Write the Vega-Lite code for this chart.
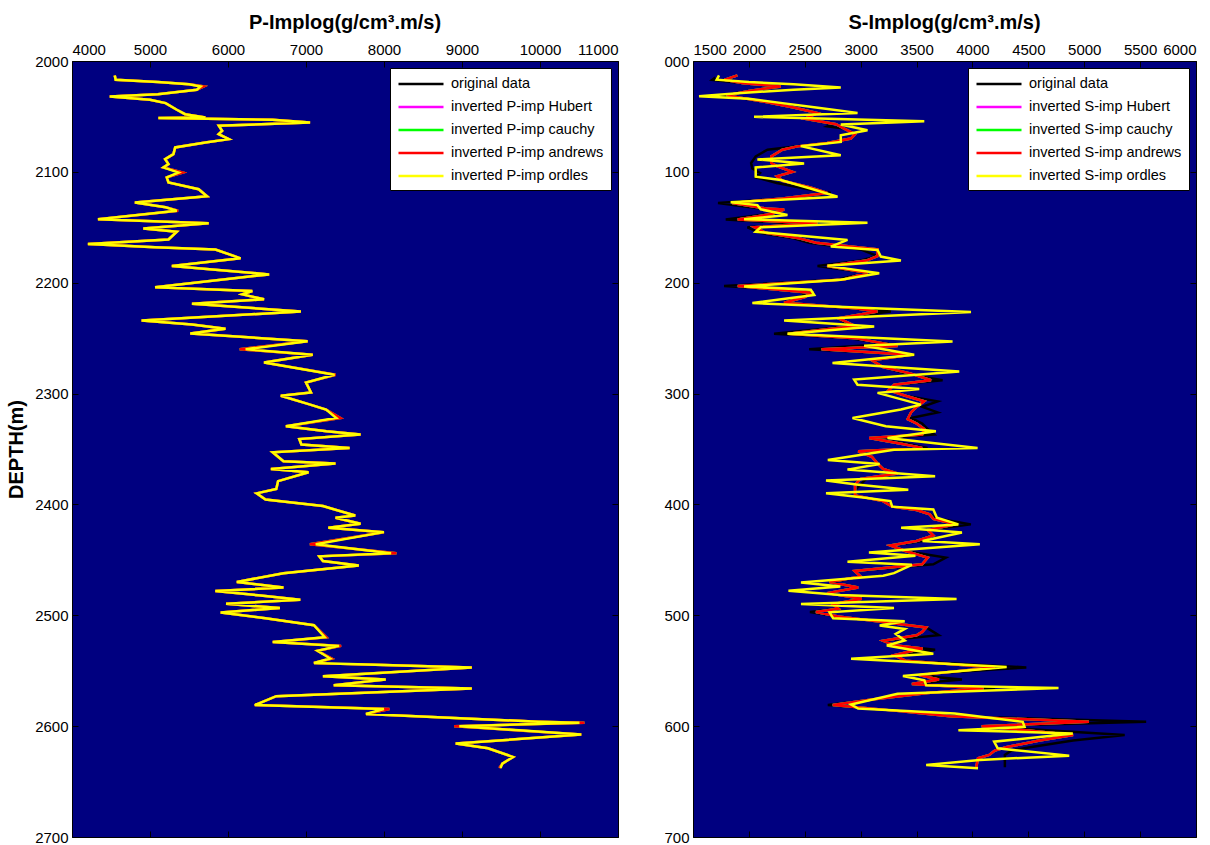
{
"$schema": "https://vega.github.io/schema/vega-lite/v6.json",
"background": "white",
"padding": {"left": 6, "top": 12, "right": 5, "bottom": 0},
"spacing": 44,
"config": {
  "view": {"fill": "#000080", "stroke": "#000000", "strokeWidth": 1},
  "axis": {"labelFont": "Liberation Sans", "labelFontSize": 15, "labelColor": "#000000", "tickColor": "#000000", "tickSize": -6, "labelPadding": 10, "domain": false, "grid": false},
  "legend": {"orient": "top-right", "offset": 7, "fillColor": "#ffffff", "strokeColor": "#000000", "padding": 7, "labelFont": "Liberation Sans", "labelFontSize": 14.5, "labelLimit": 400, "labelColor": "#000000", "symbolType": "M-1,0H5", "symbolSize": 225, "symbolStrokeWidth": 2.5, "labelOffset": 36, "rowPadding": 7},
  "title": {"font": "Liberation Sans", "fontSize": 20, "fontWeight": "bold", "color": "#000000", "offset": 9}
},
"resolve": {"scale": {"x": "independent", "y": "independent", "color": "independent"}},
"datasets": {
"p_ord": [{"d":2013,"v":4548},{"d":2017,"v":4560},{"d":2019,"v":5100},{"d":2021,"v":5500},{"d":2023,"v":5650},{"d":2026,"v":5600},{"d":2030,"v":5100},{"d":2032,"v":4484},{"d":2035,"v":5000},{"d":2038,"v":5200},{"d":2044,"v":5344},{"d":2048,"v":5450},{"d":2051,"v":5710},{"d":2051.5,"v":5107},{"d":2053,"v":6570},{"d":2055.4,"v":7052},{"d":2058.4,"v":5882},{"d":2063,"v":5925},{"d":2066,"v":5880},{"d":2070.5,"v":6010},{"d":2073.5,"v":5710},{"d":2078,"v":5323},{"d":2084,"v":5300},{"d":2088.6,"v":5194},{"d":2093,"v":5237},{"d":2096,"v":5172},{"d":2100.6,"v":5366},{"d":2105,"v":5215},{"d":2109.6,"v":5237},{"d":2115.7,"v":5624},{"d":2122,"v":5731},{"d":2127.7,"v":4806},{"d":2132,"v":5200},{"d":2135,"v":5344},{"d":2142.8,"v":4333},{"d":2146.4,"v":5753},{"d":2151,"v":4914},{"d":2154,"v":5344},{"d":2161,"v":5237},{"d":2165,"v":4204},{"d":2168,"v":5065},{"d":2170,"v":5839},{"d":2178,"v":6161},{"d":2185,"v":5280},{"d":2192.5,"v":6527},{"d":2204,"v":5065},{"d":2207.5,"v":6312},{"d":2210.5,"v":6183},{"d":2215,"v":6462},{"d":2219,"v":5538},{"d":2226,"v":6935},{"d":2234,"v":4892},{"d":2237.7,"v":5538},{"d":2241.6,"v":5968},{"d":2245.8,"v":5516},{"d":2252.7,"v":7021},{"d":2260,"v":6226},{"d":2265,"v":7086},{"d":2272,"v":6462},{"d":2283,"v":7366},{"d":2290,"v":7000},{"d":2299,"v":7064},{"d":2302,"v":6677},{"d":2309.5,"v":7033},{"d":2314.5,"v":7258},{"d":2322,"v":7387},{"d":2329.5,"v":6742},{"d":2334,"v":7263},{"d":2337,"v":7700},{"d":2341,"v":6914},{"d":2346,"v":6941},{"d":2349,"v":7559},{"d":2353,"v":6573},{"d":2361,"v":6711},{"d":2363,"v":7378},{"d":2368,"v":6550},{"d":2371,"v":7033},{"d":2379,"v":6642},{"d":2386,"v":6619},{"d":2390,"v":6366},{"d":2395.5,"v":6481},{"d":2401.5,"v":7217},{"d":2410,"v":7631},{"d":2412,"v":7378},{"d":2417.5,"v":7700},{"d":2421,"v":7286},{"d":2425,"v":7999},{"d":2436,"v":7125},{"d":2444,"v":8091},{"d":2446.8,"v":7171},{"d":2451,"v":7217},{"d":2455,"v":7677},{"d":2462,"v":6711},{"d":2470,"v":6113},{"d":2475,"v":6711},{"d":2478,"v":5837},{"d":2482,"v":6389},{"d":2486,"v":6927},{"d":2489.6,"v":5975},{"d":2493.5,"v":6665},{"d":2497.5,"v":5906},{"d":2502.6,"v":6481},{"d":2509,"v":7102},{"d":2519.8,"v":7240},{"d":2524,"v":6573},{"d":2527.6,"v":7424},{"d":2532,"v":7148},{"d":2539,"v":7309},{"d":2543,"v":7102},{"d":2547,"v":9126},{"d":2555,"v":7217},{"d":2558,"v":8022},{"d":2563,"v":7355},{"d":2566,"v":9126},{"d":2573,"v":6619},{"d":2581,"v":6343},{"d":2584.6,"v":7999},{"d":2589,"v":7769},{"d":2596,"v":9977},{"d":2597,"v":10506},{"d":2600,"v":8965},{"d":2607.6,"v":10529},{"d":2615.7,"v":8919},{"d":2620,"v":9333},{"d":2627.8,"v":9655},{"d":2633.8,"v":9517},{"d":2637.7,"v":9494}],
"p_and": [{"d":2013,"v":4548},{"d":2017,"v":4560},{"d":2019,"v":5100},{"d":2021,"v":5500},{"d":2023,"v":5690},{"d":2026,"v":5600},{"d":2030,"v":5100},{"d":2032,"v":4484},{"d":2035,"v":5000},{"d":2038,"v":5200},{"d":2044,"v":5344},{"d":2048,"v":5450},{"d":2051,"v":5710},{"d":2051.5,"v":5107},{"d":2053,"v":6570},{"d":2055.4,"v":7052},{"d":2058.4,"v":5882},{"d":2063,"v":5925},{"d":2066,"v":5880},{"d":2070.5,"v":6010},{"d":2073.5,"v":5710},{"d":2078,"v":5323},{"d":2084,"v":5300},{"d":2088.6,"v":5194},{"d":2093,"v":5237},{"d":2096,"v":5172},{"d":2100.6,"v":5420},{"d":2105,"v":5215},{"d":2109.6,"v":5237},{"d":2115.7,"v":5624},{"d":2122,"v":5731},{"d":2127.7,"v":4806},{"d":2132,"v":5200},{"d":2135,"v":5360},{"d":2142.8,"v":4333},{"d":2146.4,"v":5753},{"d":2151,"v":4914},{"d":2154,"v":5344},{"d":2161,"v":5237},{"d":2165,"v":4204},{"d":2168,"v":5065},{"d":2170,"v":5839},{"d":2178,"v":6161},{"d":2185,"v":5280},{"d":2192.5,"v":6527},{"d":2204,"v":5065},{"d":2207.5,"v":6312},{"d":2210.5,"v":6183},{"d":2215,"v":6462},{"d":2219,"v":5538},{"d":2226,"v":6935},{"d":2234,"v":4892},{"d":2237.7,"v":5538},{"d":2241.6,"v":5968},{"d":2245.8,"v":5516},{"d":2252.7,"v":7021},{"d":2260,"v":6150},{"d":2265,"v":7086},{"d":2272,"v":6462},{"d":2283,"v":7380},{"d":2290,"v":7000},{"d":2299,"v":7064},{"d":2302,"v":6677},{"d":2309.5,"v":7033},{"d":2314.5,"v":7258},{"d":2322,"v":7440},{"d":2329.5,"v":6742},{"d":2334,"v":7263},{"d":2337,"v":7700},{"d":2341,"v":6914},{"d":2346,"v":6941},{"d":2349,"v":7559},{"d":2353,"v":6573},{"d":2361,"v":6711},{"d":2363,"v":7378},{"d":2368,"v":6550},{"d":2371,"v":7033},{"d":2379,"v":6642},{"d":2386,"v":6619},{"d":2390,"v":6366},{"d":2395.5,"v":6481},{"d":2401.5,"v":7217},{"d":2410,"v":7631},{"d":2412,"v":7378},{"d":2417.5,"v":7700},{"d":2421,"v":7286},{"d":2425,"v":7999},{"d":2436,"v":7050},{"d":2444,"v":8160},{"d":2446.8,"v":7171},{"d":2451,"v":7217},{"d":2455,"v":7677},{"d":2462,"v":6711},{"d":2470,"v":6113},{"d":2475,"v":6711},{"d":2478,"v":5837},{"d":2482,"v":6389},{"d":2486,"v":6927},{"d":2489.6,"v":5975},{"d":2493.5,"v":6665},{"d":2497.5,"v":5906},{"d":2502.6,"v":6481},{"d":2509,"v":7102},{"d":2519.8,"v":7260},{"d":2524,"v":6573},{"d":2527.6,"v":7450},{"d":2532,"v":7148},{"d":2539,"v":7330},{"d":2543,"v":7102},{"d":2547,"v":9126},{"d":2555,"v":7217},{"d":2558,"v":8022},{"d":2563,"v":7355},{"d":2566,"v":9126},{"d":2573,"v":6619},{"d":2581,"v":6343},{"d":2584.6,"v":8070},{"d":2589,"v":7769},{"d":2596,"v":9977},{"d":2597,"v":10570},{"d":2600,"v":8900},{"d":2607.6,"v":10529},{"d":2615.7,"v":8919},{"d":2620,"v":9333},{"d":2627.8,"v":9655},{"d":2633.8,"v":9517},{"d":2637.7,"v":9480}],
"s_ord": [{"d":12.9,"v":1733},{"d":16.8,"v":1712},{"d":19,"v":2000},{"d":21,"v":2400},{"d":24,"v":2822},{"d":26,"v":2400},{"d":29,"v":1900},{"d":31.8,"v":1554},{"d":34,"v":2000},{"d":38,"v":2300},{"d":42,"v":2600},{"d":46.8,"v":2972},{"d":50.4,"v":2046},{"d":54.3,"v":3569},{"d":57.3,"v":2822},{"d":62.4,"v":3061},{"d":67,"v":2822},{"d":73,"v":2822},{"d":76.8,"v":2464},{"d":85,"v":2822},{"d":88.8,"v":2076},{"d":92.4,"v":2494},{"d":96,"v":2061},{"d":104.4,"v":2061},{"d":107.4,"v":2285},{"d":115,"v":2550},{"d":122.4,"v":2793},{"d":127.5,"v":1837},{"d":130,"v":2076},{"d":133.8,"v":2106},{"d":139,"v":2345},{"d":142.8,"v":1957},{"d":145.8,"v":3061},{"d":150,"v":2106},{"d":154,"v":2061},{"d":161.4,"v":2882},{"d":167.4,"v":2733},{"d":170.4,"v":3151},{"d":176.4,"v":3180},{"d":180,"v":3360},{"d":184.8,"v":2703},{"d":191.4,"v":3166},{"d":197.4,"v":2822},{"d":203.4,"v":1957},{"d":206.4,"v":2554},{"d":211,"v":2584},{"d":218.4,"v":2031},{"d":223,"v":3121},{"d":226.5,"v":3987},{"d":234,"v":2315},{"d":239.4,"v":3121},{"d":246,"v":2345},{"d":253,"v":3822},{"d":256.8,"v":3031},{"d":265,"v":3479},{"d":272.4,"v":2748},{"d":280,"v":3882},{"d":287.4,"v":2942},{"d":292,"v":2972},{"d":295.8,"v":3524},{"d":299.4,"v":3151},{"d":310,"v":3539},{"d":314.4,"v":3360},{"d":322,"v":2927},{"d":329.4,"v":3225},{"d":334,"v":3673},{"d":340,"v":3240},{"d":349,"v":4046},{"d":350.6,"v":3298},{"d":360,"v":2706},{"d":363.5,"v":3170},{"d":368.6,"v":2882},{"d":374.6,"v":3666},{"d":378.4,"v":2690},{"d":382,"v":2962},{"d":386.8,"v":3426},{"d":390,"v":2690},{"d":394,"v":3042},{"d":397,"v":3266},{"d":402,"v":3282},{"d":404.5,"v":3650},{"d":412,"v":3682},{"d":418,"v":3874},{"d":421,"v":3362},{"d":425.4,"v":3906},{"d":433,"v":3554},{"d":436,"v":4066},{"d":443.4,"v":3074},{"d":446.4,"v":3490},{"d":451.8,"v":2882},{"d":454.5,"v":3458},{"d":462,"v":3298},{"d":464.4,"v":3202},{"d":470.4,"v":2466},{"d":474,"v":2818},{"d":477.8,"v":2354},{"d":481.7,"v":2818},{"d":485.3,"v":3858},{"d":489.8,"v":2466},{"d":493.4,"v":3298},{"d":497.3,"v":2722},{"d":502.7,"v":2754},{"d":505.4,"v":3394},{"d":509.3,"v":3170},{"d":512.3,"v":3394},{"d":516.8,"v":3314},{"d":522.8,"v":3394},{"d":527.2,"v":3234},{"d":534.7,"v":3650},{"d":539.2,"v":2914},{"d":546.7,"v":4306},{"d":554.8,"v":3378},{"d":558.7,"v":3570},{"d":563.2,"v":3586},{"d":565.6,"v":4770},{"d":570.7,"v":3330},{"d":580.5,"v":2914},{"d":584.1,"v":2978},{"d":588.6,"v":3842},{"d":596.1,"v":4450},{"d":600.6,"v":4466},{"d":603.6,"v":3874},{"d":606.6,"v":4898},{"d":614,"v":4194},{"d":620,"v":4226},{"d":626.6,"v":4866},{"d":630.5,"v":4066},{"d":635,"v":3586},{"d":638,"v":4050}],
"s_orig": [{"d":15,"v":1700},{"d":17,"v":1673},{"d":20,"v":1950},{"d":23,"v":2285},{"d":27,"v":2000},{"d":31,"v":1750},{"d":36,"v":2100},{"d":42,"v":2400},{"d":47,"v":2614},{"d":52,"v":2500},{"d":57,"v":2750},{"d":59,"v":2703},{"d":61,"v":2852},{"d":66,"v":2950},{"d":70,"v":2912},{"d":74,"v":2700},{"d":77,"v":2434},{"d":80,"v":2166},{"d":86,"v":2061},{"d":92,"v":2020},{"d":97,"v":2031},{"d":101,"v":2100},{"d":105,"v":2061},{"d":110,"v":2250},{"d":115,"v":2500},{"d":119,"v":2733},{"d":124,"v":2300},{"d":128,"v":1724},{"d":133,"v":2100},{"d":137,"v":2250},{"d":143,"v":1793},{"d":147,"v":2500},{"d":150,"v":1987},{"d":155,"v":2100},{"d":160,"v":2400},{"d":164,"v":2539},{"d":170,"v":3000},{"d":176,"v":3150},{"d":180,"v":3000},{"d":185,"v":2614},{"d":191,"v":3061},{"d":197,"v":2800},{"d":203,"v":1778},{"d":207,"v":2450},{"d":211,"v":2500},{"d":218,"v":2315},{"d":223,"v":2900},{"d":226,"v":3270},{"d":232,"v":2800},{"d":239,"v":2900},{"d":246,"v":2225},{"d":250,"v":2900},{"d":255,"v":3250},{"d":260,"v":2539},{"d":265,"v":3479},{"d":270,"v":3100},{"d":276,"v":3200},{"d":282,"v":3400},{"d":288,"v":3733},{"d":292,"v":3300},{"d":297,"v":3250},{"d":302,"v":3400},{"d":307,"v":3688},{"d":312,"v":3550},{"d":317,"v":3688},{"d":322,"v":3450},{"d":327,"v":3550},{"d":332,"v":3600},{"d":337,"v":3658},{"d":341,"v":3150},{"d":345,"v":3400},{"d":349,"v":3598},{"d":352,"v":2980},{"d":357,"v":3100},{"d":363,"v":3154},{"d":368,"v":3200},{"d":372,"v":3330},{"d":377,"v":3050},{"d":382,"v":3000},{"d":387,"v":2950},{"d":392,"v":2950},{"d":397,"v":3200},{"d":402,"v":3282},{"d":405,"v":3500},{"d":409,"v":3618},{"d":413,"v":3700},{"d":418,"v":3986},{"d":423,"v":3600},{"d":428,"v":3650},{"d":433,"v":3550},{"d":437,"v":3266},{"d":442,"v":3400},{"d":448,"v":3762},{"d":454,"v":3650},{"d":460,"v":2946},{"d":465,"v":3000},{"d":470,"v":2750},{"d":475,"v":2978},{"d":480,"v":2700},{"d":485,"v":3010},{"d":490,"v":2750},{"d":494,"v":2800},{"d":497,"v":2546},{"d":501,"v":2800},{"d":506,"v":3200},{"d":511,"v":3586},{"d":515,"v":3650},{"d":518,"v":3698},{"d":523,"v":3202},{"d":527,"v":3300},{"d":531,"v":3666},{"d":536,"v":3300},{"d":541,"v":3400},{"d":547,"v":4482},{"d":552,"v":3700},{"d":555,"v":3600},{"d":558,"v":3906},{"d":562,"v":3458},{"d":566,"v":4200},{"d":570,"v":3600},{"d":576,"v":3100},{"d":581,"v":2706},{"d":586,"v":3300},{"d":591,"v":3800},{"d":596,"v":5554},{"d":600,"v":4082},{"d":604,"v":4700},{"d":608,"v":5362},{"d":613,"v":4900},{"d":619,"v":4514},{"d":622,"v":4350},{"d":626,"v":4290},{"d":631,"v":4290},{"d":637,"v":4290}],
"s_and": [{"d":13,"v":1897},{"d":17,"v":1780},{"d":20,"v":1950},{"d":23,"v":2285},{"d":27,"v":2000},{"d":31,"v":1800},{"d":36,"v":2100},{"d":42,"v":2400},{"d":47,"v":2614},{"d":52,"v":2500},{"d":57,"v":2780},{"d":61,"v":2852},{"d":66,"v":2950},{"d":70,"v":2912},{"d":74,"v":2700},{"d":77,"v":2434},{"d":80,"v":2300},{"d":86,"v":2200},{"d":92,"v":2200},{"d":95,"v":2255},{"d":100,"v":2390},{"d":104,"v":2250},{"d":108,"v":2300},{"d":114,"v":2550},{"d":119,"v":2700},{"d":124,"v":2300},{"d":128,"v":1850},{"d":133,"v":2150},{"d":134,"v":2315},{"d":138,"v":2200},{"d":143,"v":1900},{"d":146.5,"v":2614},{"d":150,"v":2050},{"d":155,"v":2150},{"d":160,"v":2450},{"d":164,"v":2600},{"d":170,"v":3151},{"d":176,"v":3150},{"d":180,"v":3050},{"d":185,"v":2700},{"d":191,"v":3061},{"d":197,"v":2850},{"d":203,"v":1900},{"d":209,"v":2554},{"d":213,"v":2500},{"d":218,"v":2315},{"d":223,"v":2950},{"d":226,"v":3150},{"d":232,"v":2800},{"d":239,"v":2950},{"d":246,"v":2350},{"d":250,"v":2950},{"d":257,"v":3330},{"d":260,"v":2650},{"d":265,"v":3450},{"d":270,"v":3100},{"d":276,"v":3200},{"d":282,"v":3450},{"d":288,"v":3629},{"d":292,"v":3300},{"d":297,"v":3250},{"d":302,"v":3400},{"d":307,"v":3568},{"d":312,"v":3500},{"d":317,"v":3450},{"d":323,"v":3420},{"d":327,"v":3500},{"d":332,"v":3568},{"d":337,"v":3550},{"d":340,"v":3076},{"d":345,"v":3350},{"d":349,"v":3550},{"d":352,"v":2978},{"d":357,"v":3100},{"d":363,"v":3150},{"d":368,"v":3200},{"d":372,"v":3330},{"d":377,"v":3000},{"d":382,"v":2950},{"d":387,"v":2950},{"d":392,"v":2950},{"d":397,"v":3200},{"d":402,"v":3282},{"d":405,"v":3500},{"d":409,"v":3618},{"d":413,"v":3650},{"d":418,"v":3850},{"d":423,"v":3600},{"d":428,"v":3650},{"d":433,"v":3500},{"d":437,"v":3266},{"d":442,"v":3400},{"d":448,"v":3600},{"d":454,"v":3550},{"d":460,"v":2946},{"d":465,"v":3000},{"d":470,"v":2722},{"d":475,"v":2978},{"d":480,"v":2700},{"d":485,"v":3010},{"d":490,"v":2750},{"d":494,"v":2800},{"d":497,"v":2600},{"d":501,"v":2800},{"d":506,"v":3200},{"d":511,"v":3586},{"d":515,"v":3550},{"d":518,"v":3500},{"d":523,"v":3202},{"d":527,"v":3300},{"d":530,"v":3554},{"d":536,"v":3300},{"d":541,"v":3400},{"d":547,"v":4200},{"d":552,"v":3700},{"d":554,"v":3522},{"d":558,"v":3700},{"d":562,"v":3458},{"d":566,"v":4100},{"d":570,"v":3600},{"d":576,"v":3100},{"d":581,"v":2750},{"d":586,"v":3300},{"d":591,"v":3800},{"d":596,"v":5042},{"d":600,"v":4082},{"d":604,"v":4500},{"d":608,"v":4900},{"d":613,"v":4600},{"d":619,"v":4300},{"d":622,"v":4200},{"d":626,"v":4150},{"d":629,"v":4050},{"d":637,"v":4034}]
},
"hconcat": [
{
  "width": 546, "height": 776,
  "title": {"text": "P-Implog(g/cm³.m/s)"},
  "resolve": {"axis": {"x": "independent", "y": "independent"}},
  "encoding": {
    "order": {"value": null}
  },
  "layer": [
    {"data": {"name": "p_and"}, "mark": {"type": "line", "strokeWidth": 2.5},
     "encoding": {
       "x": {"field": "v", "type": "quantitative", "scale": {"domain": [4000, 11000], "nice": false, "zero": false}, "axis": {"orient": "top", "values": [4000,5000,6000,7000,8000,9000,10000,11000], "format": "d", "title": null}},
       "y": {"field": "d", "type": "quantitative", "scale": {"domain": [2000, 2700], "reverse": true, "nice": false, "zero": false}, "axis": {"orient": "left", "values": [2000,2100,2200,2300,2400,2500,2600,2700], "format": "d", "title": "DEPTH(m)", "titleFont": "Liberation Sans", "titleFontSize": 20, "titleFontWeight": "bold", "titleColor": "#000000", "titlePadding": 8}},
       "color": {"datum": "original data", "type": "nominal", "scale": {"domain": ["original data", "inverted P-imp Hubert", "inverted P-imp cauchy", "inverted P-imp andrews", "inverted P-imp ordles"], "range": ["#000000", "#ff00ff", "#00ff00", "#ff0000", "#ffff00"]}, "legend": {"title": null}}
     }},
    {"data": {"name": "p_and"}, "mark": {"type": "line", "strokeWidth": 2.5},
     "encoding": {
       "x": {"field": "v", "type": "quantitative", "axis": null},
       "y": {"field": "d", "type": "quantitative", "axis": null},
       "color": {"datum": "inverted P-imp Hubert", "type": "nominal"}
     }},
    {"data": {"name": "p_and"}, "mark": {"type": "line", "strokeWidth": 2.5},
     "encoding": {
       "x": {"field": "v", "type": "quantitative", "axis": null},
       "y": {"field": "d", "type": "quantitative", "axis": null},
       "color": {"datum": "inverted P-imp cauchy", "type": "nominal"}
     }},
    {"data": {"name": "p_and"}, "mark": {"type": "line", "strokeWidth": 2.5},
     "encoding": {
       "x": {"field": "v", "type": "quantitative", "axis": null},
       "y": {"field": "d", "type": "quantitative", "axis": null},
       "color": {"datum": "inverted P-imp andrews", "type": "nominal"}
     }},
    {"data": {"name": "p_ord"}, "mark": {"type": "line", "strokeWidth": 2.5},
     "encoding": {
       "x": {"field": "v", "type": "quantitative", "axis": {"orient": "bottom", "labels": false, "title": null, "values": [4000,5000,6000,7000,8000,9000,10000,11000]}},
       "y": {"field": "d", "type": "quantitative", "axis": {"orient": "right", "labels": false, "title": null, "values": [2000,2100,2200,2300,2400,2500,2600,2700]}},
       "color": {"datum": "inverted P-imp ordles", "type": "nominal"}
     }}
  ]
},
{
  "width": 503, "height": 776,
  "title": {"text": "S-Implog(g/cm³.m/s)"},
  "resolve": {"axis": {"x": "independent", "y": "independent"}},
  "encoding": {
    "order": {"value": null}
  },
  "layer": [
    {"data": {"name": "s_orig"}, "mark": {"type": "line", "strokeWidth": 2.5},
     "encoding": {
       "x": {"field": "v", "type": "quantitative", "scale": {"domain": [1500, 6000], "nice": false, "zero": false}, "axis": {"orient": "top", "values": [1500,2000,2500,3000,3500,4000,4500,5000,5500,6000], "format": "d", "title": null}},
       "y": {"field": "d", "type": "quantitative", "scale": {"domain": [0, 700], "reverse": true, "nice": false, "zero": false}, "axis": {"orient": "left", "values": [0,100,200,300,400,500,600,700], "format": "d", "labelExpr": "datum.value == 0 ? '000' : datum.label", "title": null}},
       "color": {"datum": "original data", "type": "nominal", "scale": {"domain": ["original data", "inverted S-imp Hubert", "inverted S-imp cauchy", "inverted S-imp andrews", "inverted S-imp ordles"], "range": ["#000000", "#ff00ff", "#00ff00", "#ff0000", "#ffff00"]}, "legend": {"title": null}}
     }},
    {"data": {"name": "s_and"}, "mark": {"type": "line", "strokeWidth": 2.5},
     "encoding": {
       "x": {"field": "v", "type": "quantitative", "axis": null},
       "y": {"field": "d", "type": "quantitative", "axis": null},
       "color": {"datum": "inverted S-imp Hubert", "type": "nominal"}
     }},
    {"data": {"name": "s_and"}, "mark": {"type": "line", "strokeWidth": 2.5},
     "encoding": {
       "x": {"field": "v", "type": "quantitative", "axis": null},
       "y": {"field": "d", "type": "quantitative", "axis": null},
       "color": {"datum": "inverted S-imp cauchy", "type": "nominal"}
     }},
    {"data": {"name": "s_and"}, "mark": {"type": "line", "strokeWidth": 2.5},
     "encoding": {
       "x": {"field": "v", "type": "quantitative", "axis": null},
       "y": {"field": "d", "type": "quantitative", "axis": null},
       "color": {"datum": "inverted S-imp andrews", "type": "nominal"}
     }},
    {"data": {"name": "s_ord"}, "mark": {"type": "line", "strokeWidth": 2.5},
     "encoding": {
       "x": {"field": "v", "type": "quantitative", "axis": {"orient": "bottom", "labels": false, "title": null, "values": [1500,2000,2500,3000,3500,4000,4500,5000,5500,6000]}},
       "y": {"field": "d", "type": "quantitative", "axis": {"orient": "right", "labels": false, "title": null, "values": [0,100,200,300,400,500,600,700]}},
       "color": {"datum": "inverted S-imp ordles", "type": "nominal"}
     }}
  ]
}
]
}
